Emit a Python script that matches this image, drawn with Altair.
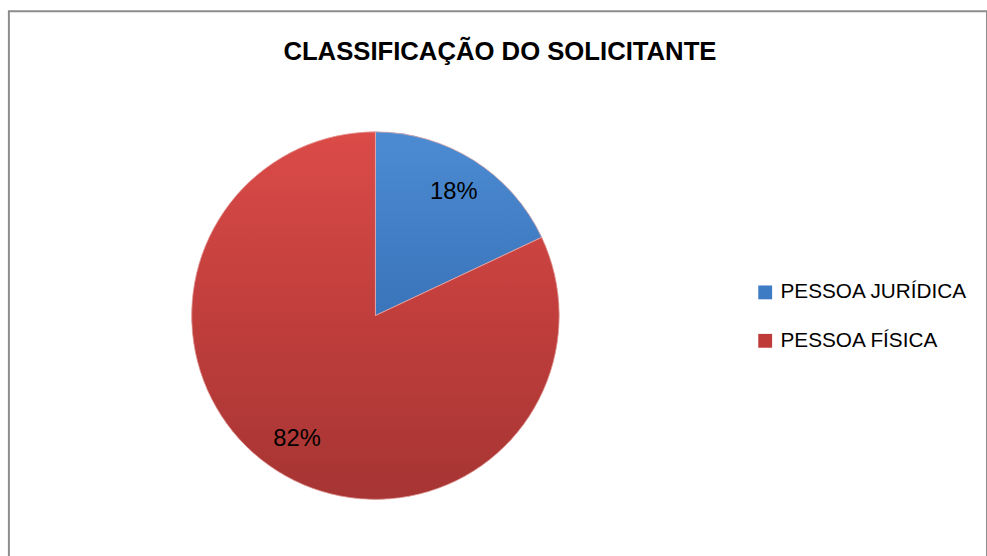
import altair as alt
import pandas as pd

categories = ["PESSOA JURÍDICA", "PESSOA FÍSICA"]
values = [18, 82]
labels = ["18%", "82%"]
title_text = "CLASSIFICAÇÃO DO SOLICITANTE"

df = pd.DataFrame({"cat": categories, "val": values, "lab": labels, "ord": [0, 1]})

FONT = "Liberation Sans"
CX, CY = 371, 308

blue_grad = alt.Gradient(gradient="linear", x1=0, y1=0, x2=0, y2=1,
                         stops=[alt.GradientStop(color="#4C8BD2", offset=0),
                                alt.GradientStop(color="#3A74BA", offset=1)])
red_grad = alt.Gradient(gradient="linear", x1=0, y1=0, x2=0, y2=1,
                        stops=[alt.GradientStop(color="#DB4B48", offset=0),
                               alt.GradientStop(color="#C03E3C", offset=0.5),
                               alt.GradientStop(color="#A63533", offset=1)])

base = alt.Chart(df).encode(
    theta=alt.Theta("val:Q", stack=True),
    order=alt.Order("ord:Q"),
)

legend_arc = base.mark_arc(outerRadius=186, stroke=None).encode(
    x=alt.value(CX), y=alt.value(CY),
    color=alt.Color("cat:N", sort=categories,
                    scale=alt.Scale(domain=categories, range=["#3D7BC4", "#BE3B39"]),
                    legend=alt.Legend(title=None, orient="none", legendX=755, legendY=274,
                                      symbolType="square", symbolSize=196,
                                      symbolStrokeWidth=0,
                                      labelFont=FONT, labelFontSize=21, labelColor="#000000",
                                      labelLimit=400, rowPadding=27, labelOffset=5)),
)

grad_arc = base.mark_arc(outerRadius=186, stroke="#E8B0AE", strokeWidth=0.8).encode(
    x=alt.value(CX), y=alt.value(CY),
    fill=alt.condition(alt.datum.cat == categories[0], alt.value(blue_grad), alt.value(red_grad)),
)

text = base.mark_text(radius=148, font=FONT, fontSize=24, color="#000000").encode(
    x=alt.value(CX), y=alt.value(CY),
    text="lab:N",
)

title = alt.Chart(pd.DataFrame({"t": [title_text]})).mark_text(
    font=FONT, fontSize=26, fontWeight="bold", color="#000000",
    align="center", baseline="alphabetic",
).encode(x=alt.value(497), y=alt.value(49), text="t:N")

chart = alt.layer(legend_arc, grad_arc, text, title).properties(
    width=990, height=560,
    autosize=alt.AutoSizeParams(type="none"),
    padding={"left": 9, "top": 8, "right": 0, "bottom": 0},
    background="#ffffff",
).configure_view(stroke="#8C8C8C", strokeWidth=2)

chart.save("out.html", embed_options={"renderer": "svg", "actions": False})
